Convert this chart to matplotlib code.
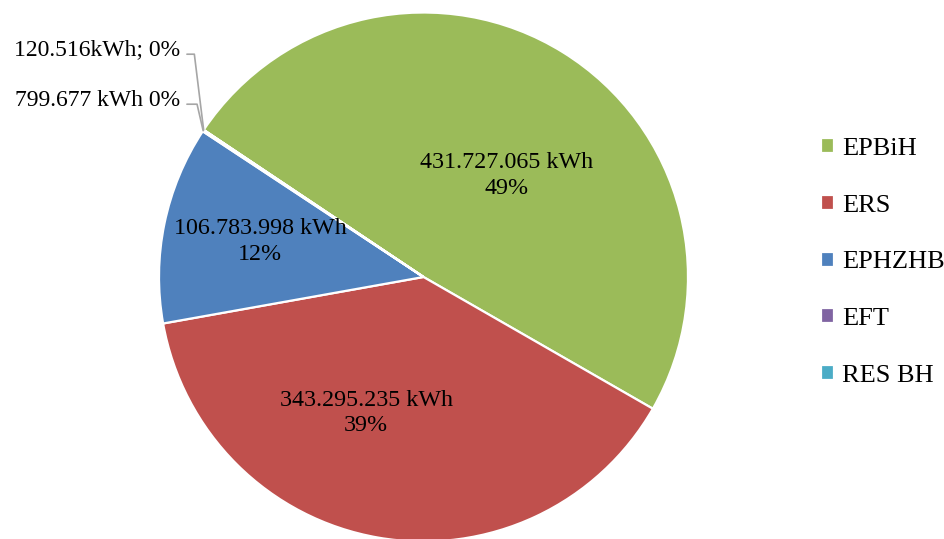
import numpy as np
import matplotlib
matplotlib.use('Agg')
import matplotlib.pyplot as plt

labels = ['EPBiH', 'ERS', 'EPHZHB', 'EFT', 'RES BH']
values = [431727065, 343295235, 106783998, 799677, 120516]
value_txt = ['431.727.065 kWh\n49%', '343.295.235 kWh\n39%', '106.783.998 kWh\n12%',
             '799.677 kWh 0%', '120.516kWh; 0%']
colors = ['#9BBB59', '#C0504D', '#4F81BD', '#8064A2', '#4BACC6']

plt.rcParams['font.family'] = ['Liberation Serif', 'DejaVu Serif']

W, H = 945, 539
fig = plt.figure(figsize=(W/100, H/100), dpi=100)
cx, cy, R = 423.5, 539 - 277, 264.5
ax = fig.add_axes([(cx-R)/W, (cy-R)/H, 2*R/W, 2*R/H])
wedges, _ = ax.pie(values, colors=colors, startangle=146.2, counterclock=False,
                   radius=1, wedgeprops=dict(edgecolor='white', linewidth=1.6))
ax.set_xlim(-1, 1); ax.set_ylim(-1, 1)
ax.set_axis_off()

# in-slice labels (radius, angle offset chosen to mimic the original placement)
inside = [(0.498, -7.5), (0.558, -13.0), (0.633, -0.7)]
for w, txt, (r, off) in zip(wedges[:3], value_txt[:3], inside):
    a = np.deg2rad((w.theta1 + w.theta2) / 2 + off)
    ax.text(r*np.cos(a), r*np.sin(a), txt, ha='center', va='center',
            fontsize=17.3, linespacing=1.3, color='black')

# leader labels for the two tiny slices
leader = [(3, (180, H-100), 103), (4, (180, H-50), 97)]
for i, xyt, angB in leader:
    w = wedges[i]
    a = np.deg2rad((w.theta1 + w.theta2) / 2)
    ax.annotate(value_txt[i], xy=(np.cos(a), np.sin(a)), xytext=xyt,
                textcoords='figure pixels', ha='right', va='center', fontsize=17,
                annotation_clip=False,
                arrowprops=dict(arrowstyle='-', color='#A6A6A6', lw=1.2,
                                shrinkA=3, shrinkB=0, relpos=(1, 0.3),
                                connectionstyle=f'angle,angleA=0,angleB={angB},rad=0'))

fig.legend(wedges, labels, loc='center left', bbox_to_anchor=(821/W, 0.513),
           frameon=False, fontsize=19.0, handlelength=0.5, handleheight=0.5,
           handletextpad=0.3, labelspacing=1.32, borderpad=0, borderaxespad=0)

fig.savefig('out.png', dpi=100)
